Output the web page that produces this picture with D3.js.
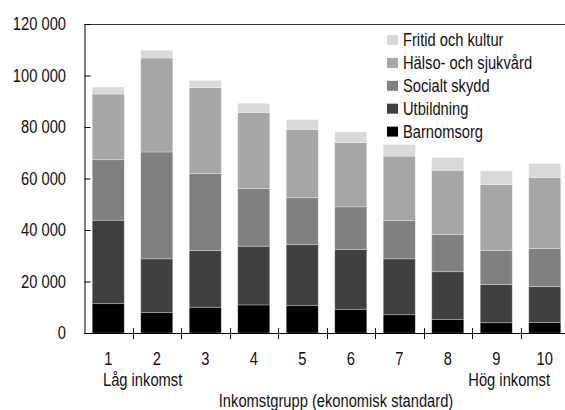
<!DOCTYPE html>
<html>
<head>
<meta charset="utf-8">
<script src="https://cdn.jsdelivr.net/npm/d3@7"></script>
<style>
  body { margin: 0; background: #fff; }
  svg text { font-family: "Liberation Sans", Arial, sans-serif; font-size: 17.5px; fill: #111; }
</style>
</head>
<body>
<svg id="chart" width="565" height="410"></svg>
<script>
// Income groups 1..10
const groups = ['1', '2', '3', '4', '5', '6', '7', '8', '9', '10'];
const seriesNames = ['Barnomsorg', 'Utbildning', 'Socialt skydd', 'Hälso- och sjukvård', 'Fritid och kultur'];
const seriesColours = ['#000000', '#404040', '#808080', '#a6a6a6', '#d9d9d9'];

const barnomsorg = [11400, 8000, 10000, 10900, 10600, 9200, 7100, 5300, 4000, 4100];
const utbildning = [32400, 20800, 22000, 22800, 23700, 23200, 21700, 18500, 14800, 13900];
const socialtSkydd = [23500, 41500, 29900, 22400, 18250, 16600, 14900, 14400, 13200, 14800];
const halsoSjukvard = [25500, 36500, 33400, 29500, 26550, 25000, 25000, 25000, 25600, 27600];
const fritidKultur = [2700, 3000, 2800, 3600, 3750, 4150, 4500, 4900, 5400, 5400];

const yTicks = [0, 20000, 40000, 60000, 80000, 100000, 120000];

const seriesValues = [barnomsorg, utbildning, socialtSkydd, halsoSjukvard, fritidKultur];
const rows = groups.map((g, i) => {
    const r = { group: g };
    seriesNames.forEach((s, j) => { r[s] = seriesValues[j][i]; });
    return r;
});

const svg = d3.select('#chart');
const plotLeft = 84, plotRight = 569, plotTop = 24, plotBottom = 333;
const squeeze = 0.84; // reference font is a condensed face

const x = d3.scaleBand().domain(groups).range([plotLeft, plotRight]).paddingInner(0.34).paddingOuter(0.17);
const y = d3.scaleLinear().domain([0, 120000]).range([plotBottom, plotTop]);
const colour = d3.scaleOrdinal(seriesNames, seriesColours);

const stacked = d3.stack().keys(seriesNames)(rows);

svg.append('g')
    .selectAll('g')
    .data(stacked)
    .enter()
    .append('g')
    .attr('fill', d => colour(d.key))
    .selectAll('rect')
    .data(d => d)
    .enter()
    .append('rect')
    .attr('x', d => x(d.data.group))
    .attr('width', x.bandwidth())
    .attr('y', d => y(d[1]))
    .attr('height', d => y(d[0]) - y(d[1]))
    .attr('stroke', 'rgba(255,255,255,0.35)')
    .attr('stroke-width', 0.8);

// frame: top line
svg.append('line')
    .attr('x1', plotLeft).attr('x2', plotRight)
    .attr('y1', plotTop + 0.5).attr('y2', plotTop + 0.5)
    .attr('stroke', '#333').attr('stroke-width', 1);

// y axis with inward ticks
const fmt = v => d3.format(',')(v).replace(/,/g, ' ');
const yAxis = svg.append('g')
    .attr('transform', `translate(${plotLeft + 0.5},0)`)
    .call(d3.axisRight(y).tickValues(yTicks).tickSize(6).tickFormat(''));
yAxis.select('.domain').attr('stroke', '#000');
yAxis.selectAll('.tick line').attr('stroke', '#000');

function label(parent, px, py, anchor) {
    return parent.append('text')
        .attr('transform', `translate(${px},${py}) scale(${squeeze},1)`)
        .attr('text-anchor', anchor || 'start');
}

yTicks.forEach(v => {
    label(svg, 66, y(v), 'end').attr('dy', '0.36em').text(fmt(v));
});

// x axis: ticks at band boundaries crossing the axis line
svg.append('line')
    .attr('x1', plotLeft).attr('x2', plotRight)
    .attr('y1', plotBottom + 0.5).attr('y2', plotBottom + 0.5)
    .attr('stroke', '#000');

const step = x.step();
const bounds = groups.slice(1).map(g => x(g) - x.paddingInner() * step / 2);
svg.append('g')
    .selectAll('line')
    .data(bounds)
    .enter()
    .append('line')
    .attr('x1', d => Math.round(d) + 0.5).attr('x2', d => Math.round(d) + 0.5)
    .attr('y1', plotBottom - 5).attr('y2', plotBottom + 6)
    .attr('stroke', '#000');

groups.forEach(g => {
    label(svg, x(g) + x.bandwidth() / 2, 365, 'middle').text(g);
});

label(svg, 103, 386).text('Låg inkomst');
label(svg, 550, 386, 'end').text('Hög inkomst');
label(svg, 336, 406.5, 'middle').text('Inkomstgrupp (ekonomisk standard)');

// legend, top item is the top series
const legendItems = seriesNames.slice().reverse();
const legend = svg.append('g')
    .selectAll('g')
    .data(legendItems)
    .enter()
    .append('g')
    .attr('transform', (d, i) => `translate(387,${40 + i * 22.9})`);

legend.append('rect')
    .attr('x', 0).attr('y', -5)
    .attr('width', 11).attr('height', 10)
    .attr('fill', d => colour(d));

legend.append('text')
    .attr('transform', `translate(16,0) scale(${squeeze},1)`)
    .attr('dy', '0.36em')
    .text(d => d);
</script>
</body>
</html>
